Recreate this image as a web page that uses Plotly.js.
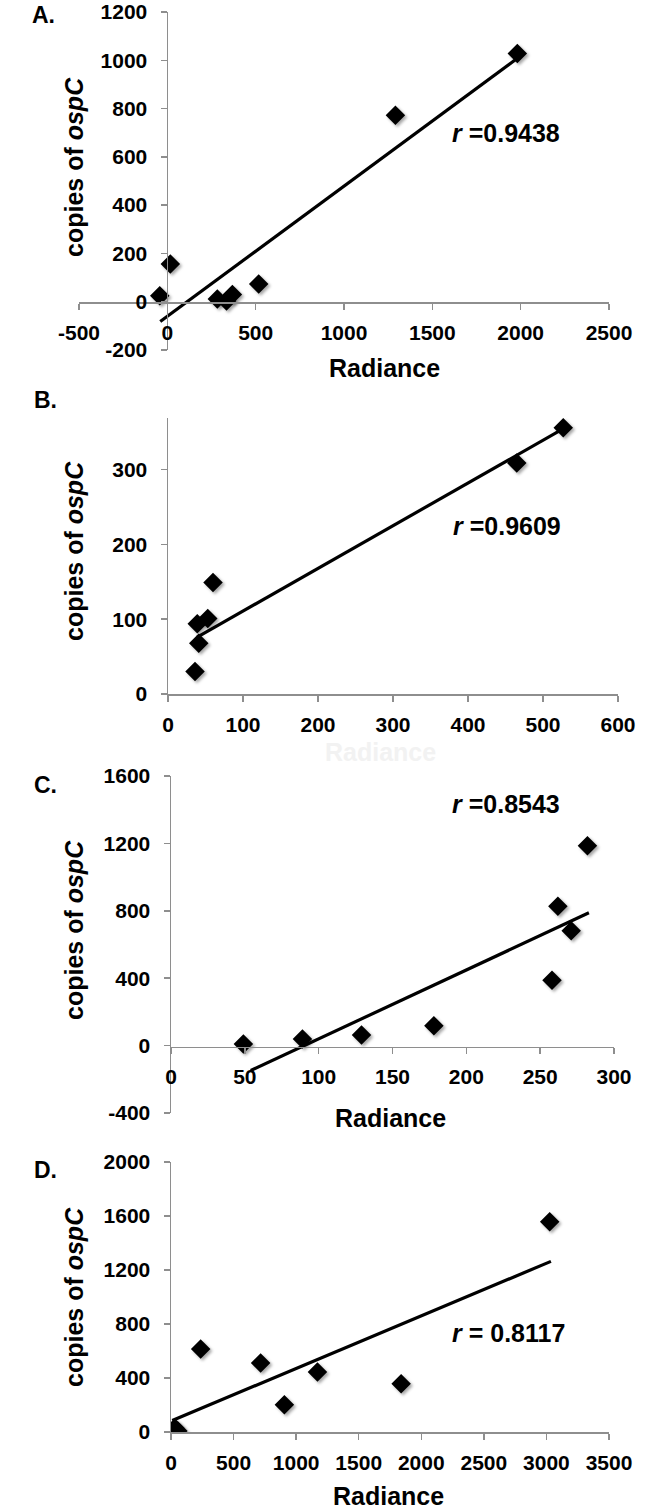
<!DOCTYPE html>
<html>
<head>
<meta charset="utf-8">
<script src="https://cdn.plot.ly/plotly-3.0.1.min.js"></script>
<style>
  html, body { margin: 0; padding: 0; background: #fff; }
  #chart { width: 666px; height: 1510px; }
  .scatterlayer .point { filter: drop-shadow(2px 2px 1.5px rgba(0,0,0,0.35)); }
</style>
</head>
<body>
<div id="chart"></div>
<script>
// ---------------- DATA ----------------
// Panel A
const aRadiance = [-43, 17, 283, 335, 368, 517, 1291, 1981];
const aCopies   = [25, 156, 11, 3, 30, 73, 772, 1028];
const aTrendX   = [-40, 1974];
const aTrendY   = [-82, 1004];
const aLabel    = 'r =0.9438';
const aXTicks   = [-500, 0, 500, 1000, 1500, 2000, 2500];
const aXTickTxt = ['-500', '0', '500', '1000', '1500', '2000', '2500'];
const aYTicks   = [-200, 0, 200, 400, 600, 800, 1000, 1200];
const aYTickTxt = ['-200', '0', '200', '400', '600', '800', '1000', '1200'];

// Panel B
const bRadiance = [36, 39, 41, 53, 60, 465, 527];
const bCopies   = [30, 94, 68, 101, 149, 309, 356];
const bTrendX   = [39, 526];
const bTrendY   = [76, 354];
const bLabel    = 'r =0.9609';
const bXTicks   = [0, 100, 200, 300, 400, 500, 600];
const bXTickTxt = ['0', '100', '200', '300', '400', '500', '600'];
const bYTicks   = [0, 100, 200, 300];
const bYTickTxt = ['0', '100', '200', '300'];

// Panel C
const cRadiance = [49, 89, 129, 178, 258, 262, 271, 282];
const cCopies   = [10, 39, 63, 118, 388, 827, 682, 1186];
const cTrendX   = [54, 283];
const cTrendY   = [-148, 788];
const cLabel    = 'r =0.8543';
const cXTicks   = [0, 50, 100, 150, 200, 250, 300];
const cXTickTxt = ['0', '50', '100', '150', '200', '250', '300'];
const cYTicks   = [-400, 0, 400, 800, 1200, 1600];
const cYTickTxt = ['-400', '0', '400', '800', '1200', '1600'];

// Panel D
const dRadiance = [30, 55, 237, 716, 906, 1170, 1839, 3026];
const dCopies   = [30, 8, 615, 511, 202, 444, 358, 1558];
const dTrendX   = [10, 3036];
const dTrendY   = [85, 1264];
const dLabel    = 'r = 0.8117';
const dXTicks   = [0, 500, 1000, 1500, 2000, 2500, 3000, 3500];
const dXTickTxt = ['0', '500', '1000', '1500', '2000', '2500', '3000', '3500'];
const dYTicks   = [0, 400, 800, 1200, 1600, 2000];
const dYTickTxt = ['0', '400', '800', '1200', '1600', '2000'];

const panelNames = ['A.', 'B.', 'C.', 'D.'];
const xTitle = 'Radiance';
const yTitle = 'copies of <i>ospC</i>';

// ---------------- LAYOUT HELPERS ----------------
const W = 666, H = 1510;
const px = v => v / W;
const py = v => 1 - v / H;

const FONT = 'Liberation Sans, Arial, Helvetica, sans-serif';
const AXIS_COLOR = '#8e8e8e';

function baseAxis(extra) {
  return Object.assign({
    showgrid: false,
    zeroline: false,
    showline: true,
    linecolor: AXIS_COLOR,
    linewidth: 1.5,
    ticks: 'outside',
    ticklen: 6,
    tickwidth: 1.5,
    tickcolor: AXIS_COLOR,
    tickmode: 'array',
    tickfont: { family: FONT, size: 21, color: '#000', weight: 'bold' },
    fixedrange: true
  }, extra);
}

function rLabel(text) {
  const parts = text.split(/^r/);
  return '<i>r</i>' + parts[1];
}

const markerStyle = { symbol: 'diamond', size: 15, color: '#000', line: { width: 0 } };
const lineStyle = { color: '#000', width: 3.2 };

function traces(xs, ys, tx, ty, xa, ya) {
  return [
    { x: tx, y: ty, xaxis: xa, yaxis: ya, mode: 'lines', line: lineStyle, hoverinfo: 'skip', type: 'scatter' },
    { x: xs, y: ys, xaxis: xa, yaxis: ya, mode: 'markers', marker: markerStyle, type: 'scatter' }
  ];
}

const data = [].concat(
  traces(aRadiance, aCopies, aTrendX, aTrendY, 'x', 'y'),
  traces(bRadiance, bCopies, bTrendX, bTrendY, 'x2', 'y2'),
  traces(cRadiance, cCopies, cTrendX, cTrendY, 'x3', 'y3'),
  traces(dRadiance, dCopies, dTrendX, dTrendY, 'x4', 'y4')
);

const layout = {
  width: W, height: H,
  margin: { l: 0, r: 0, t: 0, b: 0, pad: 0 },
  paper_bgcolor: '#fff', plot_bgcolor: 'rgba(0,0,0,0)',
  showlegend: false,
  font: { family: FONT, color: '#000' },

  // Panel A (axes cross at zero)
  xaxis: baseAxis({ domain: [px(79), px(609)], range: [-500, 2500], anchor: 'free', position: py(302),
    tickvals: aXTicks, ticktext: aXTickTxt, ticklabelstandoff: 5 }),
  yaxis: baseAxis({ domain: [py(350), py(12)], range: [-200, 1200], anchor: 'free', position: px(166.5),
    tickvals: aYTicks, ticktext: aYTickTxt, ticklabelstandoff: 9 }),

  // Panel B
  xaxis2: baseAxis({ domain: [px(168), px(618)], range: [0, 600], anchor: 'y2',
    tickvals: bXTicks, ticktext: bXTickTxt, ticklabelstandoff: 5 }),
  yaxis2: baseAxis({ domain: [py(694), py(418)], range: [0, 369], anchor: 'x2',
    tickvals: bYTicks, ticktext: bYTickTxt, ticklabelstandoff: 9 }),

  // Panel C (x axis crosses at zero)
  xaxis3: baseAxis({ domain: [px(171), px(614)], range: [0, 300], anchor: 'free', position: py(1046.7),
    tickvals: cXTicks, ticktext: cXTickTxt, ticklabelstandoff: 5 }),
  yaxis3: baseAxis({ domain: [py(1113), py(776)], range: [-400, 1600], anchor: 'x3',
    tickvals: cYTicks, ticktext: cYTickTxt, ticklabelstandoff: 9 }),

  // Panel D
  xaxis4: baseAxis({ domain: [px(171), px(609)], range: [0, 3500], anchor: 'y4',
    tickvals: dXTicks, ticktext: dXTickTxt, ticklabelstandoff: 5 }),
  yaxis4: baseAxis({ domain: [py(1432), py(1162)], range: [0, 2000], anchor: 'x4',
    tickvals: dYTicks, ticktext: dYTickTxt, ticklabelstandoff: 9 }),

  annotations: []
};

const titleFont = { family: FONT, size: 25, color: '#000', weight: 'bold' };
const rFont = { family: FONT, size: 25, color: '#000', weight: 'bold' };

// panel letters
const letterPos = [[30, 15], [32, 400], [32, 785], [32, 1170]];
panelNames.forEach((t, i) => {
  layout.annotations.push({ text: t, xref: 'paper', yref: 'paper', x: px(letterPos[i][0]), y: py(letterPos[i][1]),
    xanchor: 'left', yanchor: 'middle', showarrow: false, font: Object.assign({}, titleFont, { size: 23 }) });
});

// y titles
[167, 551, 930, 1297].forEach(cy => {
  layout.annotations.push({ text: yTitle, xref: 'paper', yref: 'paper', x: px(74), y: py(cy),
    xanchor: 'center', yanchor: 'middle', textangle: -90, showarrow: false, font: titleFont });
});

// x titles
[[384, 368, '#000'], [380, 752, '#f2f2f2'], [390, 1118, '#000'], [388, 1496, '#000']].forEach(p => {
  layout.annotations.push({ text: xTitle, xref: 'paper', yref: 'paper', x: px(p[0]), y: py(p[1]),
    xanchor: 'center', yanchor: 'middle', showarrow: false,
    font: Object.assign({}, titleFont, { color: p[2] }) });
});

// r labels (data coordinates)
[[aLabel, 'x', 'y', 1600, 700], [bLabel, 'x2', 'y2', 377, 225],
 [cLabel, 'x3', 'y3', 189, 1432], [dLabel, 'x4', 'y4', 2229, 733]].forEach(r => {
  layout.annotations.push({ text: rLabel(r[0]), xref: r[1], yref: r[2], x: r[3], y: r[4],
    xanchor: 'left', yanchor: 'middle', showarrow: false, font: rFont });
});

Plotly.newPlot('chart', data, layout, { staticPlot: true, displayModeBar: false });
</script>
</body>
</html>
